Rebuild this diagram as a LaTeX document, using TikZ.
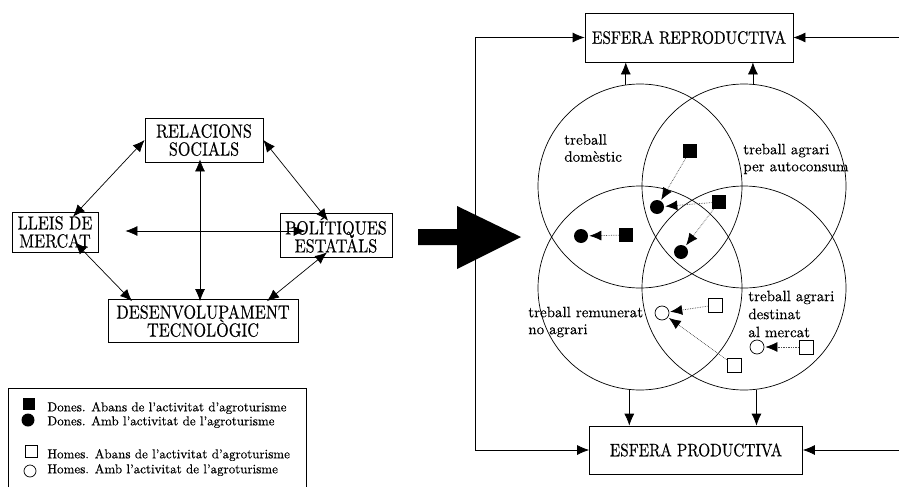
\documentclass[tikz,border=0pt]{standalone}
\usepackage{fontspec}
\setmainfont{lmroman10-regular.otf}[FakeBold=0.3]
\newfontfamily\capfont{lmroman10-regular.otf}[FakeStretch=0.85,FakeBold=0.3]
\usetikzlibrary{arrows.meta}
\tikzset{
  every path/.style={line width=0.7pt},
  box/.style={draw,align=center,inner sep=1pt},
  arr/.style={-{Latex[length=12pt,width=10pt]}},
  darr/.style={{Latex[length=12pt,width=10pt]}-{Latex[length=12pt,width=10pt]}},
  dotarr/.style={-{Latex[length=12pt,width=10pt,color=black]},densely dotted,gray!60!black,shorten >=1pt},
  zone/.style={draw,circle,minimum size=204pt,inner sep=0pt},
  dsq/.style={fill,minimum size=14pt,inner sep=0pt},
  dci/.style={fill,circle,minimum size=14pt,inner sep=0pt},
  hsq/.style={draw,fill=white,minimum size=14pt,inner sep=0pt},
  hci/.style={draw,fill=white,circle,minimum size=14pt,inner sep=0pt},
  lbl/.style={align=left,anchor=west,inner sep=0pt,font=\fontsize{15}{17}\selectfont},
  key/.style={anchor=west,inner sep=0pt,font=\fontsize{13}{14}\selectfont},
}
\begin{document}
\begin{tikzpicture}[x=1pt,y=-1pt]
\useasboundingbox (0,0) rectangle (899,487);
% left diagram
\begin{scope}[every node/.append style={font=\capfont\fontsize{19}{18}\selectfont}]
\node[box,minimum width=118pt,minimum height=44pt] (rs) at (204,140) {RELACIONS\\SOCIALS};
\node[box,minimum width=86pt,minimum height=40pt] (lm) at (55,232) {LLEIS DE\\MERCAT};
\node[box,minimum width=112pt,minimum height=44pt] (pe) at (336,235) {POLÍTIQUES\\ESTATALS};
\node[box,minimum width=190pt,minimum height=43pt] (dt) at (203,321) {DESENVOLUPAMENT\\TECNOLÒGIC};
\end{scope}
\draw[darr] (rs.west) -- ([xshift=18pt,yshift=-5pt]lm.north);
\draw[darr] (rs.east) -- ([xshift=-8pt,yshift=-8pt]pe.north);
\draw[darr] ([xshift=20pt,yshift=10pt]lm.south) -- ([xshift=-71pt,yshift=-2pt]dt.north);
\draw[darr] ([xshift=-9pt,yshift=5pt]pe.south) -- ([xshift=64pt,yshift=-2pt]dt.north);
\draw[darr] ([xshift=-4pt,yshift=3pt]rs.south) -- ([xshift=-3pt,yshift=-2pt]dt.north);
\draw[darr,shorten >=1pt] ([xshift=27pt,yshift=1pt]lm.east) -- ([xshift=27pt,yshift=1pt]lm.east -| pe.west);
% big arrow
\fill (418,229) -- (457,229) -- (457,206) -- (521,237) -- (457,269) -- (457,245) -- (418,245) -- cycle;
% right diagram
\begin{scope}[every node/.append style={font=\capfont\fontsize{18}{18}\selectfont}]
\node[box,minimum width=208pt,minimum height=49pt] (rep) at (689,37.5) {ESFERA REPRODUCTIVA};
\node[box,minimum width=213pt,minimum height=48pt] (prod) at (696,450) {ESFERA PRODUCTIVA};
\end{scope}
\coordinate (split) at (475,240);
\coordinate (rin) at (899,0 |- rep.east);
\coordinate (pin) at (899,0 |- prod.east);
\draw[arr] (split) |- (rep.west);
\draw[arr] (split) |- (prod.west);
\draw[arr] (rin) -- (rep.east);
\draw[arr] (pin) -- (prod.east);
\node[zone] (tl) at (640,186) {};
\node[zone] (tr) at (744,186) {};
\node[zone] (bl) at (640,288) {};
\node[zone] (br) at (744,288) {};
\draw[arr] (tl.98) -- (tl.98 |- rep.south);
\draw[arr] (tr.85) -- (tr.85 |- rep.south);
\draw[arr] (bl.264) -- (bl.264 |- prod.north);
\draw[arr] (br.277) -- (br.277 |- prod.north);
\node[lbl] (ldom) at (564,148) {treball\\domèstic};
\node[lbl] (laut) at (743,159) {treball agrari\\per autoconsum};
\node[lbl] (lrem) at (528,322) {treball remunerat\\no agrari};
\node[lbl,font=\fontsize{15}{18}\selectfont] (lmer) at (748,314) {treball agrari\\destinat\\al mercat};
% women and men, before and after
\foreach \n/\x/\y in {s1/690/151, s2/719/202, s3/626/235}
  \node[dsq] (\n) at (\x,\y) {};
\foreach \n/\x/\y in {c1/657/207, c2/681/252, c3/581/236}
  \node[dci] (\n) at (\x,\y) {};
\foreach \n/\x/\y in {q1/715/305, q2/734/365, q3/806/347}
  \node[hsq] (\n) at (\x,\y) {};
\foreach \n/\x/\y in {o1/662/313, o2/757/347}
  \node[hci] (\n) at (\x,\y) {};
\foreach \a/\b in {s1/c1, s2/c1, s2/c2, s3/c3, q1/o1, q2/o1, q3/o2}
  \draw[dotarr] (\a) -- (\b);
% legend
\draw (8,487) |- (306,388) -- (306,487);
\node[dsq,minimum size=12pt] (k1) at (29,404) {};
\node[dci,minimum size=13pt] (k2) at (28,420) {};
\node[hsq,minimum size=12pt] (k3) at (31,451) {};
\node[hci,minimum size=12pt] (k4) at (30,471) {};
\node[key] (t1) at (47,408) {Dones. Abans de l’activitat d’agroturisme};
\node[key] (t2) at (47,422) {Dones. Amb l’activitat de l’agroturisme};
\node[key] (t3) at (47,455) {Homes. Abans de l’activitat d’agroturisme};
\node[key] (t4) at (47,470) {Homes. Amb l’activitat de l’agroturisme};
\end{tikzpicture}
\end{document}
